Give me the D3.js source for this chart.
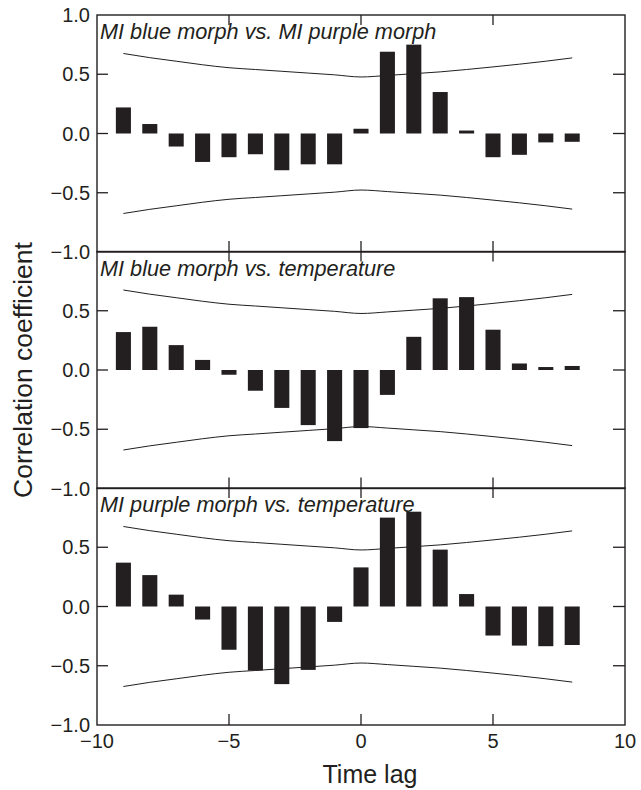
<!DOCTYPE html>
<html>
<head>
<meta charset="utf-8">
<script src="https://cdn.jsdelivr.net/npm/d3@7/dist/d3.min.js"></script>
<style>
  html, body { margin: 0; padding: 0; background: #fff; }
  svg { display: block; }
  text { font-family: "Liberation Sans", Arial, Helvetica, sans-serif; fill: #231f20; }
</style>
</head>
<body>
<svg id="chart" width="641" height="790"></svg>
<script>
// ---- data ----
const lags = [-9, -8, -7, -6, -5, -4, -3, -2, -1, 0, 1, 2, 3, 4, 5, 6, 7, 8];
const panelTitles = [
  "MI blue morph vs. MI purple morph",
  "MI blue morph vs. temperature",
  "MI purple morph vs. temperature"
];
const blueVsPurple = [0.22, 0.08, -0.11, -0.24, -0.20, -0.175, -0.31, -0.26, -0.26, 0.04, 0.69, 0.75, 0.35, 0.025, -0.20, -0.18, -0.075, -0.07];
const blueVsTemp   = [0.32, 0.365, 0.21, 0.085, -0.04, -0.175, -0.32, -0.465, -0.60, -0.49, -0.21, 0.28, 0.605, 0.615, 0.34, 0.055, 0.025, 0.034];
const purpleVsTemp = [0.37, 0.265, 0.10, -0.11, -0.365, -0.54, -0.655, -0.535, -0.13, 0.33, 0.75, 0.80, 0.48, 0.105, -0.245, -0.33, -0.335, -0.325];
const upperBand = [0.675, 0.64, 0.61, 0.58, 0.555, 0.54, 0.525, 0.51, 0.495, 0.477, 0.49, 0.505, 0.52, 0.54, 0.562, 0.585, 0.61, 0.638];
const lowerBand = [-0.675, -0.64, -0.61, -0.58, -0.555, -0.54, -0.525, -0.51, -0.495, -0.477, -0.49, -0.505, -0.52, -0.54, -0.562, -0.585, -0.61, -0.638];
const xTicks = [-10, -5, 0, 5, 10];
const xInnerTicks = [-5, 0, 5];
const yTicksFirst = [1.0, 0.5, 0.0, -0.5, -1.0];
const yTicksOther = [0.5, 0.0, -0.5, -1.0];
const yInnerTicks = [0.5, 0.0, -0.5];
const series = [blueVsPurple, blueVsTemp, purpleVsTemp];

// ---- layout ----
const svg = d3.select("#chart");
const left = 97, right = 625;
const panelTop = [15, 251.5, 488];
const panelH = 237;
const ink = "#231f20";
const fmt = v => (v < 0 ? "\u2212" : "") + Math.abs(v).toFixed(1);
const fmtX = v => (v < 0 ? "\u2212" : "") + Math.abs(v);

const x = d3.scaleLinear().domain([-10, 10]).range([left, right]);
const barW = x(0.57) - x(0);

series.forEach((vals, i) => {
  const top = panelTop[i];
  const y = d3.scaleLinear().domain([-1, 1]).range([top + panelH, top]);
  const g = svg.append("g");

  // bars
  g.selectAll("rect.bar").data(lags.map((l, j) => ({ l, v: vals[j] })))
    .enter().append("rect")
    .attr("x", d => x(d.l) - barW / 2)
    .attr("y", d => y(Math.max(0, d.v)))
    .attr("width", barW)
    .attr("height", d => Math.abs(y(d.v) - y(0)))
    .attr("fill", ink);

  // confidence bands
  const line = d3.line().x(d => x(d[0])).y(d => y(d[1])).curve(d3.curveMonotoneX);
  [upperBand, lowerBand].forEach(b => {
    g.append("path")
      .attr("d", line(lags.map((l, j) => [l, b[j]])))
      .attr("fill", "none").attr("stroke", ink).attr("stroke-width", 1);
  });

  // frame
  g.append("rect")
    .attr("x", left).attr("y", top).attr("width", right - left).attr("height", panelH)
    .attr("fill", "none").attr("stroke", ink).attr("stroke-width", 1.4);

  // inner ticks on x (top and bottom)
  xInnerTicks.forEach(t => {
    g.append("line").attr("x1", x(t)).attr("x2", x(t))
      .attr("y1", top).attr("y2", top + 10).attr("stroke", ink).attr("stroke-width", 1.3);
    g.append("line").attr("x1", x(t)).attr("x2", x(t))
      .attr("y1", top + panelH).attr("y2", top + panelH - 11).attr("stroke", ink).attr("stroke-width", 1.3);
  });
  // inner ticks on y (left and right)
  yInnerTicks.forEach(t => {
    g.append("line").attr("x1", left).attr("x2", left + 11)
      .attr("y1", y(t)).attr("y2", y(t)).attr("stroke", ink).attr("stroke-width", 1.3);
    g.append("line").attr("x1", right).attr("x2", right - 12)
      .attr("y1", y(t)).attr("y2", y(t)).attr("stroke", ink).attr("stroke-width", 1.3);
  });

  // y tick labels
  const yl = i === 0 ? yTicksFirst : yTicksOther;
  g.selectAll("text.yt").data(yl).enter().append("text")
    .attr("x", 90).attr("y", d => y(d)).attr("dy", "0.36em")
    .attr("text-anchor", "end").attr("font-size", 20)
    .text(fmt);

  // title
  g.append("text").attr("x", left + 3).attr("y", top + 24)
    .attr("font-size", 21.7).attr("font-style", "italic")
    .text(panelTitles[i]);

  if (i === 2) {
    g.selectAll("text.xt").data(xTicks).enter().append("text")
      .attr("x", d => x(d)).attr("y", top + panelH + 23)
      .attr("text-anchor", "middle").attr("font-size", 20)
      .text(fmtX);
  }
});

// axis titles
svg.append("text").attr("x", 370).attr("y", 783)
  .attr("text-anchor", "middle").attr("font-size", 25).text("Time lag");
svg.append("text")
  .attr("transform", "translate(32,370) rotate(-90)")
  .attr("text-anchor", "middle").attr("font-size", 26.5).text("Correlation coefficient");
</script>
</body>
</html>
